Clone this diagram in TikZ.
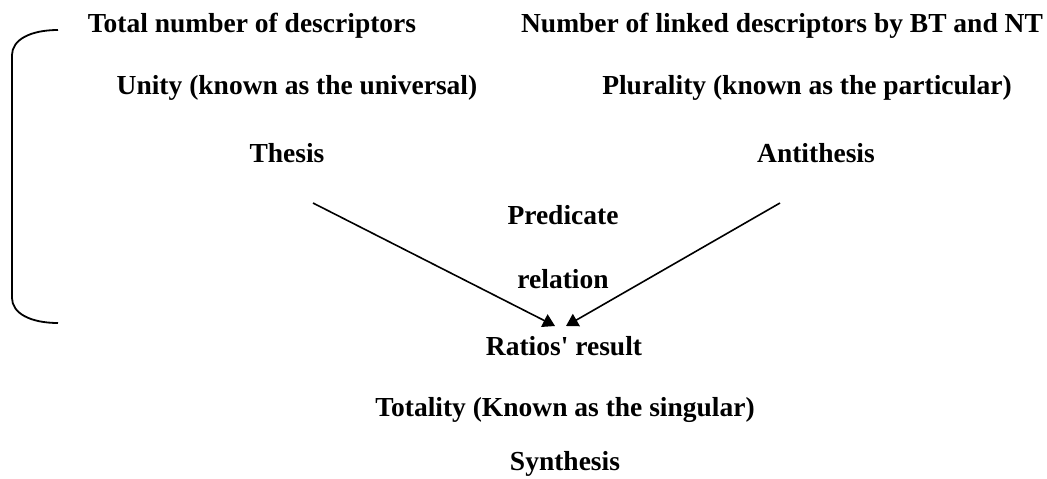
\documentclass[tikz,border=0pt]{standalone}
\usepackage{fontspec}
\setmainfont{Liberation Serif}[Ligatures=TeXOff]
\usetikzlibrary{arrows.meta}
\begin{document}
\begin{tikzpicture}[x=1pt,y=-1pt,
  lbl/.style={font=\bfseries\fontsize{27.5}{31}\selectfont, inner sep=0pt, anchor=center},
  arr/.style={line width=1.6pt, -{Triangle[length=12pt,width=14pt]}}]
\useasboundingbox (0,0) rectangle (1047,479);
\node[lbl] (total) at (252,26) {Total number of descriptors};
\node[lbl] (linked) at (782,26) {Number of linked descriptors by BT and NT};
\node[lbl] (unity) at (297,88) {Unity (known as the universal)};
\node[lbl] (plural) at (807,88) {Plurality (known as the particular)};
\node[lbl] (thesis) at (287,153) {Thesis};
\node[lbl] (anti) at (816,153) {Antithesis};
\node[lbl] (pred) at (563,215) {Predicate};
\node[lbl] (rel) at (563,279) {relation};
\node[lbl] (ratio) at (564,346) {Ratios' result};
\node[lbl] (total2) at (565,410) {Totality (Known as the singular)};
\node[lbl] (synth) at (565,464) {Synthesis};
\coordinate (la) at (313,203);
\coordinate (lb) at (555,326);
\coordinate (ra) at (780,203);
\coordinate (rb) at (566,326);
\draw[arr] (la) -- (lb);
\draw[arr] (ra) -- (rb);
\coordinate (bt) at (58,30);
\coordinate (bb) at (58,323);
\draw[line width=1.8pt] (bt) .. controls (30,30) and (12,40) .. (12,55) -- (12,298) .. controls (12,313) and (30,323) .. (bb);
\end{tikzpicture}
\end{document}
